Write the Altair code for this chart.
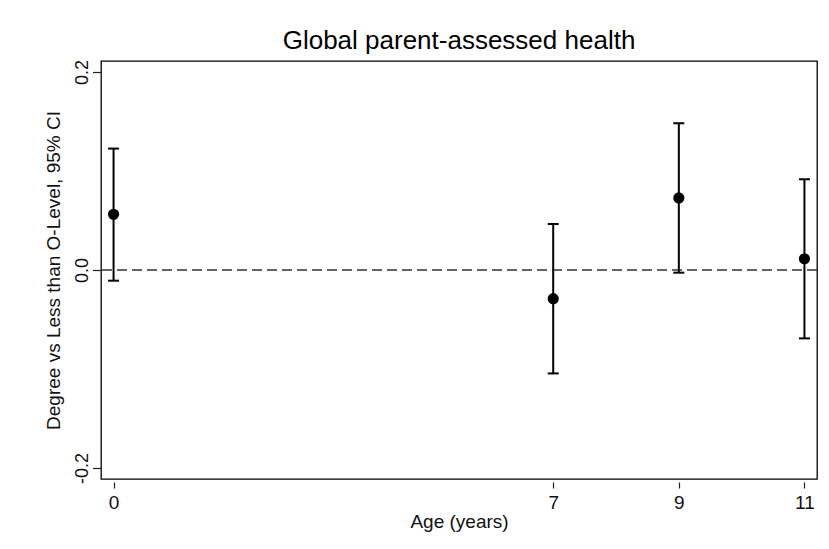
import altair as alt
import pandas as pd

# ---- data ----
ages = [0, 7, 9, 11]
estimates = [0.0563, -0.0290, 0.0728, 0.0114]
lower_ci = [-0.0108, -0.1045, -0.0027, -0.0691]
upper_ci = [0.1227, 0.0465, 0.1483, 0.0917]
x_ticks = [0, 7, 9, 11]
y_ticks = [-0.2, 0.0, 0.2]
ref_line = [0.0]

df = pd.DataFrame({"age": ages, "est": estimates, "lo": lower_ci, "hi": upper_ci})
ref_df = pd.DataFrame({"ref": ref_line})

FONT = "Liberation Sans"
x_scale = alt.Scale(domain=[-0.2, 11.2], nice=False, zero=False)
y_scale = alt.Scale(domain=[-0.2112, 0.2112], nice=False, zero=False)

x_axis = alt.Axis(
    values=x_ticks, format="d", title="Age (years)", grid=False, domain=False,
    offset=3, tickSize=6, tickColor="#222", tickWidth=1.2,
    labelFont=FONT, labelFontSize=19, labelColor="#111", labelBaseline="alphabetic",
    labelPadding=20, labelFlush=False, labelOverlap=False,
    titleFont=FONT, titleFontSize=19, titleFontWeight="normal", titleColor="#111",
    titleBaseline="alphabetic", titleX=358, titleY=45,
)
y_axis = alt.Axis(
    values=y_ticks, title="Degree vs Less than O-Level, 95% CI", grid=False, domain=False,
    labelExpr="datum.value === 0 ? '0.0' : '' + datum.value",
    tickSize=8.5, tickColor="#222", tickWidth=1.2,
    labelAngle=270, labelAlign="center", labelBaseline="alphabetic", labelPadding=5.5,
    labelFont=FONT, labelFontSize=18, labelColor="#111", labelFlush=False, labelOverlap=False,
    titleFont=FONT, titleFontSize=19, titleFontWeight="normal", titleColor="#111",
    titleAngle=270, titleX=-42, titleY=209, titleAlign="center", titleBaseline="alphabetic",
)

zero_line = alt.Chart(ref_df).mark_rule(
    strokeDash=[10, 5], color="#333", strokeWidth=1.5
).encode(y=alt.Y("ref:Q", scale=y_scale, axis=y_axis))

base = alt.Chart(df)
bars = base.mark_rule(color="black", strokeWidth=2, opacity=1).encode(
    x=alt.X("age:Q", scale=x_scale, axis=x_axis),
    y=alt.Y("lo:Q", scale=y_scale, axis=y_axis),
    y2="hi:Q",
)
cap_lo = base.mark_tick(orient="horizontal", size=11, thickness=2, color="black", opacity=1).encode(
    x=alt.X("age:Q", scale=x_scale, axis=x_axis),
    y=alt.Y("lo:Q", scale=y_scale, axis=y_axis),
)
cap_hi = base.mark_tick(orient="horizontal", size=11, thickness=2, color="black", opacity=1).encode(
    x=alt.X("age:Q", scale=x_scale, axis=x_axis),
    y=alt.Y("hi:Q", scale=y_scale, axis=y_axis),
)
points = base.mark_circle(size=125, color="black", opacity=1).encode(
    x=alt.X("age:Q", scale=x_scale, axis=x_axis),
    y=alt.Y("est:Q", scale=y_scale, axis=y_axis),
)

chart = alt.layer(zero_line, bars, cap_lo, cap_hi, points).properties(
    width=716,
    height=418,
    title=alt.TitleParams(
        "Global parent-assessed health", font=FONT, fontSize=26, fontWeight="normal",
        color="#000", anchor="middle", frame="group", baseline="alphabetic", offset=11, dy=26,
    ),
    autosize=alt.AutoSizeParams(type="none"),
    padding={"left": 93, "top": 53, "right": 4, "bottom": 62},
    background="white",
).configure_view(stroke="#000", strokeWidth=1.3, fill="white")

chart.save("out.html", embed_options={"renderer": "svg", "actions": False})
